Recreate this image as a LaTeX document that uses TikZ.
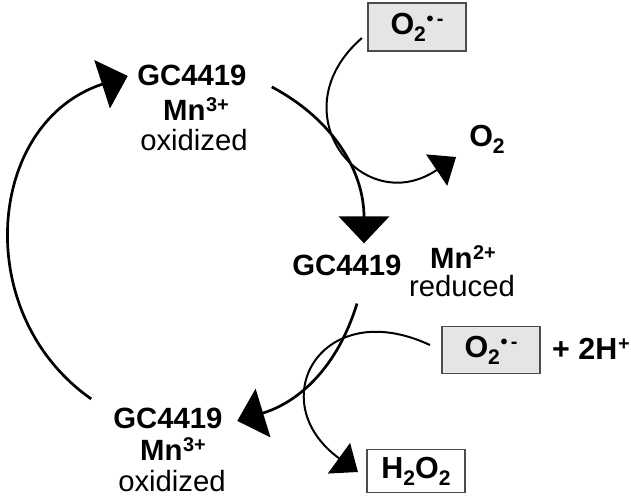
\documentclass[tikz,border=0pt]{standalone}
\usepackage{fontspec}
\setmainfont{Liberation Sans}
\usetikzlibrary{arrows.meta}
\newcommand{\upr}[1]{\raisebox{7pt}{\fontsize{17}{17}\selectfont\kern0.5pt #1}}
\newcommand{\lowr}[1]{\raisebox{-6pt}{\fontsize{18}{18}\selectfont #1}}

\begin{document}
\begin{tikzpicture}[x=0.03cm,y=-0.03cm,
    lbl/.style={inner sep=0pt,anchor=base,font=\fontsize{25}{30}\selectfont},
    enz/.style={lbl,font=\fontsize{25}{30}\selectfont\bfseries},
    ion/.style={lbl,font=\fontsize{25}{30}\selectfont\bfseries},
    chem/.style={inner sep=0pt,font=\fontsize{26}{30}\selectfont\bfseries},
    spec/.style={chem,draw=black!70,line width=1pt,minimum width=2.94cm},
    cyc/.style={line width=2.3pt,-{Triangle[length=23pt,width=43pt]}},
    side/.style={line width=1.7pt,-{Triangle[length=20pt,width=32pt]}}]
    \useasboundingbox (0,0) rectangle (631,501);

    % the three states of the enzyme
    \node[enz] (gc1) at (192,85) {GC4419};
    \node[ion] (mn1) at (196,120) {Mn\upr{3+}};
    \node[lbl] (ox1) at (194,150) {oxidized};
    \node[enz] (gc2) at (347,275) {GC4419};
    \node[ion] (mn2) at (463,268) {Mn\upr{2+}};
    \node[lbl] (rd2) at (462,296) {reduced};
    \node[enz] (gc3) at (168,428) {GC4419};
    \node[ion] (mn3) at (173,460) {Mn\upr{3+}};
    \node[lbl] (ox3) at (172,491) {oxidized};

    % substrates and products
    \node[spec,fill=black!10,minimum height=1.44cm] (sup1) at (417,27) {O\lowr{2}\upr{•\,-}};
    \node[chem,anchor=base] (o2) at (487,146) {O\lowr{2}};
    \node[spec,fill=black!10,minimum height=1.41cm] (sup2) at (491,350) {O\lowr{2}\upr{•\,-}};
    \node[chem,anchor=base west] (prot) at (552,359) {+ 2H\upr{+}};
    \node[spec,fill=white,minimum height=1.29cm] (h2o2) at (416,471) {H\lowr{2}O\lowr{2}};

    % catalytic cycle
    \draw[cyc] ([shift={(25,12)}]gc1.east) to[out=-28,in=90] ([shift={(17,-11)}]gc2.north);
    \draw[cyc] ([shift={(10,28)}]gc2.south) to[out=-107,in=17] ([shift={(14.5,3)}]gc3.east);
    \draw[cyc] ([shift={(-22,-19)}]gc3.west) to[out=145,in=-162,looseness=1.17] ([shift={(-9.5,1)}]gc1.west);

    % superoxide in, product out
    \draw[side] ([shift={(-5.5,11)}]sup1.west) to[out=-139,in=-146,looseness=1.9] ([shift={(-13,11)}]o2.base west);
    \draw[side] ([shift={(-11.5,-5)}]sup2.west) to[out=155,in=144,looseness=2.1] ([shift={(-8.5,1)}]h2o2.west);
\end{tikzpicture}
\end{document}
